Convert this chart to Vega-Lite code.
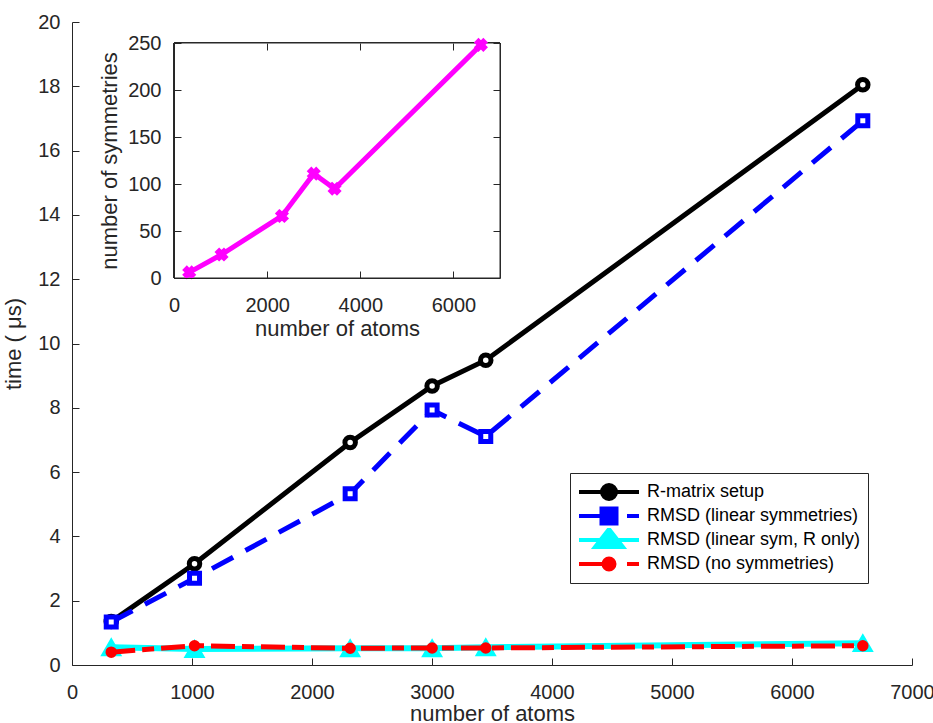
{
  "$schema": "https://vega.github.io/schema/vega-lite/v6.json",
  "width": 840,
  "height": 643,
  "autosize": {"type": "none"},
  "padding": {"left": 72, "top": 22, "right": 21, "bottom": 58},
  "background": "white",
  "config": {
    "view": {"stroke": null},
    "font": "Liberation Sans",
    "axis": {
      "domainColor": "#262626", "tickColor": "#262626", "labelColor": "#262626", "titleColor": "#262626",
      "labelFont": "Liberation Sans", "titleFont": "Liberation Sans",
      "labelFontSize": 20, "titleFontSize": 22, "titleFontWeight": "normal",
      "tickSize": -7, "grid": false, "labelPadding": 20, "labelFlush": false, "labelOverlap": false, "format": "d"
    }
  },
  "datasets": {
    "times": [
      {"atoms": 327, "series": "R-matrix setup", "time": 1.35},
      {"atoms": 1021, "series": "R-matrix setup", "time": 3.15},
      {"atoms": 2318, "series": "R-matrix setup", "time": 6.92},
      {"atoms": 3001, "series": "R-matrix setup", "time": 8.68},
      {"atoms": 3448, "series": "R-matrix setup", "time": 9.48},
      {"atoms": 6590, "series": "R-matrix setup", "time": 18.05},
      {"atoms": 327, "series": "RMSD (linear symmetries)", "time": 1.34},
      {"atoms": 1021, "series": "RMSD (linear symmetries)", "time": 2.7},
      {"atoms": 2318, "series": "RMSD (linear symmetries)", "time": 5.33},
      {"atoms": 3001, "series": "RMSD (linear symmetries)", "time": 7.93},
      {"atoms": 3448, "series": "RMSD (linear symmetries)", "time": 7.11},
      {"atoms": 6590, "series": "RMSD (linear symmetries)", "time": 16.93},
      {"atoms": 327, "series": "RMSD (linear sym, R only)", "time": 0.55},
      {"atoms": 1021, "series": "RMSD (linear sym, R only)", "time": 0.5},
      {"atoms": 2318, "series": "RMSD (linear sym, R only)", "time": 0.52},
      {"atoms": 3001, "series": "RMSD (linear sym, R only)", "time": 0.52},
      {"atoms": 3448, "series": "RMSD (linear sym, R only)", "time": 0.55},
      {"atoms": 6590, "series": "RMSD (linear sym, R only)", "time": 0.68},
      {"atoms": 327, "series": "RMSD (no symmetries)", "time": 0.4},
      {"atoms": 1021, "series": "RMSD (no symmetries)", "time": 0.6},
      {"atoms": 2318, "series": "RMSD (no symmetries)", "time": 0.52},
      {"atoms": 3001, "series": "RMSD (no symmetries)", "time": 0.53},
      {"atoms": 3448, "series": "RMSD (no symmetries)", "time": 0.53},
      {"atoms": 6590, "series": "RMSD (no symmetries)", "time": 0.6}
    ],
    "sym": [
      {"atoms": 327, "symmetries": 6},
      {"atoms": 1021, "symmetries": 25},
      {"atoms": 2318, "symmetries": 66},
      {"atoms": 3001, "symmetries": 111},
      {"atoms": 3448, "symmetries": 95},
      {"atoms": 6590, "symmetries": 248}
    ]
  },
  "layer": [
    {
      "data": {"name": "times"},
      "encoding": {
        "x": {"field": "atoms", "type": "quantitative",
          "scale": {"domain": [0, 7000], "nice": false, "zero": false},
          "axis": {"values": [0, 1000, 2000, 3000, 4000, 5000, 6000, 7000], "title": "number of atoms", "labelPadding": 24, "titlePadding": 1}},
        "y": {"field": "time", "type": "quantitative",
          "scale": {"domain": [0, 20], "nice": false, "zero": false},
          "axis": {"values": [0, 2, 4, 6, 8, 10, 12, 14, 16, 18, 20], "title": "time ( μs)", "labelPadding": 19, "titlePadding": 12}}
      },
      "layer": [
        {"transform": [{"filter": "datum.series === 'R-matrix setup'"}],
         "mark": {"type": "line", "color": "black", "strokeWidth": 5}},
        {"transform": [{"filter": "datum.series === 'R-matrix setup'"}],
         "mark": {"type": "point", "shape": "circle", "size": 110, "fill": "white", "stroke": "black", "strokeWidth": 5, "opacity": 1}},
        {"transform": [{"filter": "datum.series === 'RMSD (linear symmetries)'"}],
         "mark": {"type": "line", "color": "#0000FF", "strokeWidth": 5, "strokeDash": [24, 14]}},
        {"transform": [{"filter": "datum.series === 'RMSD (linear symmetries)'"}],
         "mark": {"type": "point", "shape": "square", "size": 100, "fill": "white", "stroke": "#0000FF", "strokeWidth": 5, "opacity": 1}},
        {"transform": [{"filter": "datum.series === 'RMSD (linear sym, R only)'"}],
         "mark": {"type": "line", "color": "#00FFFF", "strokeWidth": 6}},
        {"transform": [{"filter": "datum.series === 'RMSD (linear sym, R only)'"}],
         "mark": {"type": "point", "shape": "triangle-up", "size": 340, "fill": "#00FFFF", "stroke": "#00FFFF", "strokeWidth": 2, "opacity": 1}},
        {"transform": [{"filter": "datum.series === 'RMSD (no symmetries)'"}],
         "mark": {"type": "line", "color": "#FF0000", "strokeWidth": 5, "strokeDash": [24, 7, 12, 7]}},
        {"transform": [{"filter": "datum.series === 'RMSD (no symmetries)'"}],
         "mark": {"type": "point", "shape": "circle", "size": 90, "fill": "#FF0000", "stroke": "#FF0000", "strokeWidth": 2, "opacity": 1}},
        {"transform": [{"filter": "false"}],
         "mark": {"type": "point", "filled": true},
         "encoding": {
           "color": {"field": "series", "type": "nominal",
             "scale": {"domain": ["R-matrix setup", "RMSD (linear symmetries)", "RMSD (linear sym, R only)", "RMSD (no symmetries)"],
                       "range": ["#000000", "#0000FF", "#00FFFF", "#FF0000"]},
             "legend": {"orient": "none", "legendX": 498, "legendY": 451, "title": null, "fillColor": "white", "strokeColor": "#262626",
               "padding": 7, "labelFontSize": 18, "labelColor": "black", "labelFont": "Liberation Sans", "labelLimit": 0,
               "symbolSize": 400, "symbolOffset": 20, "symbolStrokeWidth": 4, "rowPadding": 0, "clipHeight": 24, "labelOffset": 26, "symbolOpacity": 1,
               "encode": {"symbols": {"update": {"stroke": {"scale": "color", "field": "value"}, "strokeWidth": {"value": 4}, "opacity": {"value": 1}}}}}},
           "shape": {"field": "series", "type": "nominal",
             "scale": {"domain": ["R-matrix setup", "RMSD (linear symmetries)", "RMSD (linear sym, R only)", "RMSD (no symmetries)"],
                       "range": [
                         "M-3,0L3,0M-0.7,0A0.7,0.7,0,1,1,0.7,0A0.7,0.7,0,1,1,-0.7,0Z",
                         "M-3,0L-0.75,0M1.8,0L3,0M-0.75,-0.75L0.75,-0.75L0.75,0.75L-0.75,0.75Z",
                         "M-3,0L3,0M-1.4,0.7L0,-1.1L1.4,0.7Z",
                         "M-3,0L-0.6,0M1.8,0L3,0M-0.55,0A0.55,0.55,0,1,1,0.55,0A0.55,0.55,0,1,1,-0.55,0Z"
                       ]},
             "legend": {"orient": "none", "legendX": 498, "legendY": 451, "title": null, "fillColor": "white", "strokeColor": "#262626",
               "padding": 7, "labelFontSize": 18, "labelColor": "black", "labelFont": "Liberation Sans", "labelLimit": 0,
               "symbolSize": 400, "symbolOffset": 20, "symbolStrokeWidth": 4, "rowPadding": 0, "clipHeight": 24, "labelOffset": 26, "symbolOpacity": 1}}
         }}
      ]
    },
    {
      "data": {"name": "sym"},
      "layer": [
        {"mark": {"type": "rect", "fill": "white", "stroke": "#262626", "strokeWidth": 1},
         "encoding": {
           "x": {"datum": 0, "type": "quantitative", "scale": {"domain": [0, 7000], "nice": false, "zero": false, "range": [102, 428]}, "axis": null},
           "x2": {"datum": 7000},
           "y": {"datum": 0, "type": "quantitative", "scale": {"domain": [0, 250], "nice": false, "zero": false, "range": [256, 21]}, "axis": null},
           "y2": {"datum": 250}}},
        {"mark": {"type": "line", "color": "#FF00FF", "strokeWidth": 5},
         "encoding": {
           "x": {"field": "atoms", "type": "quantitative",
             "scale": {"domain": [0, 7000], "nice": false, "zero": false, "range": [102, 428]},
             "axis": {"orient": "bottom", "offset": -387, "values": [0, 2000, 4000, 6000], "title": "number of atoms", "labelPadding": 24, "titlePadding": 3, "zindex": 2}},
           "y": {"field": "symmetries", "type": "quantitative",
             "scale": {"domain": [0, 250], "nice": false, "zero": false, "range": [256, 21]},
             "axis": {"orient": "left", "offset": -102, "values": [0, 50, 100, 150, 200, 250], "title": "number of symmetries", "labelPadding": 20, "titlePadding": 6, "zindex": 2}}}},
        {"mark": {"type": "point", "shape": "cross", "angle": 45, "size": 130, "fill": "#FF00FF", "stroke": "#FF00FF", "strokeWidth": 2, "opacity": 1},
         "encoding": {
           "x": {"field": "atoms", "type": "quantitative",
             "scale": {"domain": [0, 7000], "nice": false, "zero": false, "range": [102, 428]},
             "axis": {"orient": "top", "offset": -21, "values": [0, 2000, 4000, 6000], "labels": false, "domain": false, "title": null, "zindex": 2}},
           "y": {"field": "symmetries", "type": "quantitative",
             "scale": {"domain": [0, 250], "nice": false, "zero": false, "range": [256, 21]},
             "axis": {"orient": "right", "offset": -412, "values": [0, 50, 100, 150, 200, 250], "labels": false, "domain": false, "title": null, "zindex": 2}}}}
      ],
      "resolve": {"axis": {"x": "independent", "y": "independent"}}
    }
  ],
  "resolve": {"scale": {"x": "independent", "y": "independent"}, "axis": {"x": "independent", "y": "independent"}}
}
